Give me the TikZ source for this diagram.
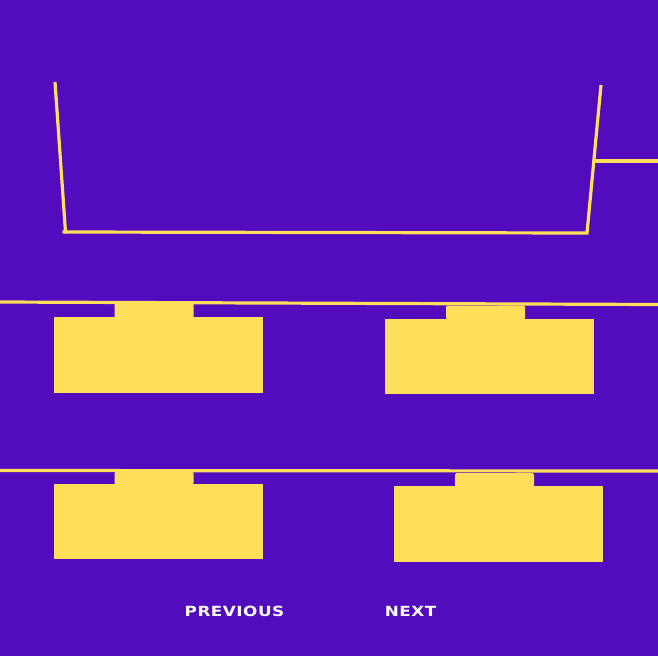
\documentclass[tikz,border=0pt]{standalone}
\usepackage{fontspec}
\setsansfont{DejaVu Sans}
\definecolor{bgpurple}{RGB}{82,11,189}
\definecolor{tabyellow}{RGB}{255,222,89}
\newcommand{\widelabel}[1]{\scalebox{1.2}[1]{#1}}
\tikzset{
  rail/.style={line width=3.2pt, color=tabyellow},
  navlabel/.style={text=white, font=\sffamily\bfseries\fontsize{14}{14}\selectfont\addfontfeature{LetterSpace=3}, inner sep=0pt}
}
\begin{document}
\begin{tikzpicture}[x=1pt, y=-1pt]
          % background and bounds
          \fill[bgpurple] (0,0) rectangle (658,656);
          \useasboundingbox (0,0) rectangle (658,656);
          % the open tray at the top
          \coordinate (tl) at (55,82);
          \coordinate (bl) at (65.5,232);
          \coordinate (br) at (587,233);
          \coordinate (tr) at (601,85);
          \coordinate (side) at (594.5,161);
          \draw[rail, line join=miter] (tl) -- (bl) -- (br) -- (tr);
          \draw[rail] (62.5,231.8) -- (bl);
          \draw[rail] (side) -- (658,161);
          % the two shelves
          \draw[rail] (0,302) -- (658,304.5);
          \draw[rail] (0,470.5) -- (658,471);
          % the folder shapes, using a loop
          \foreach \x/\y/\t in {53.5/317/302.5, 385/318.5/305.5, 53.5/483.5/471.5, 394/486/473}{
            \fill[tabyellow] (\x, \y) rectangle (\x + 209, \y + 75.5);
            \fill[tabyellow, rounded corners=1.5pt] (\x + 61, \y + 1) -- (\x + 61, \t) -- (\x + 140, \t) -- (\x + 140, \y + 1) -- cycle;
          }
          \node[navlabel] (prev) at (234.5,611) {\widelabel{PREVIOUS}};
          \node[navlabel] (next) at (410.5,611) {\widelabel{NEXT}};
        \end{tikzpicture}
\end{document}
